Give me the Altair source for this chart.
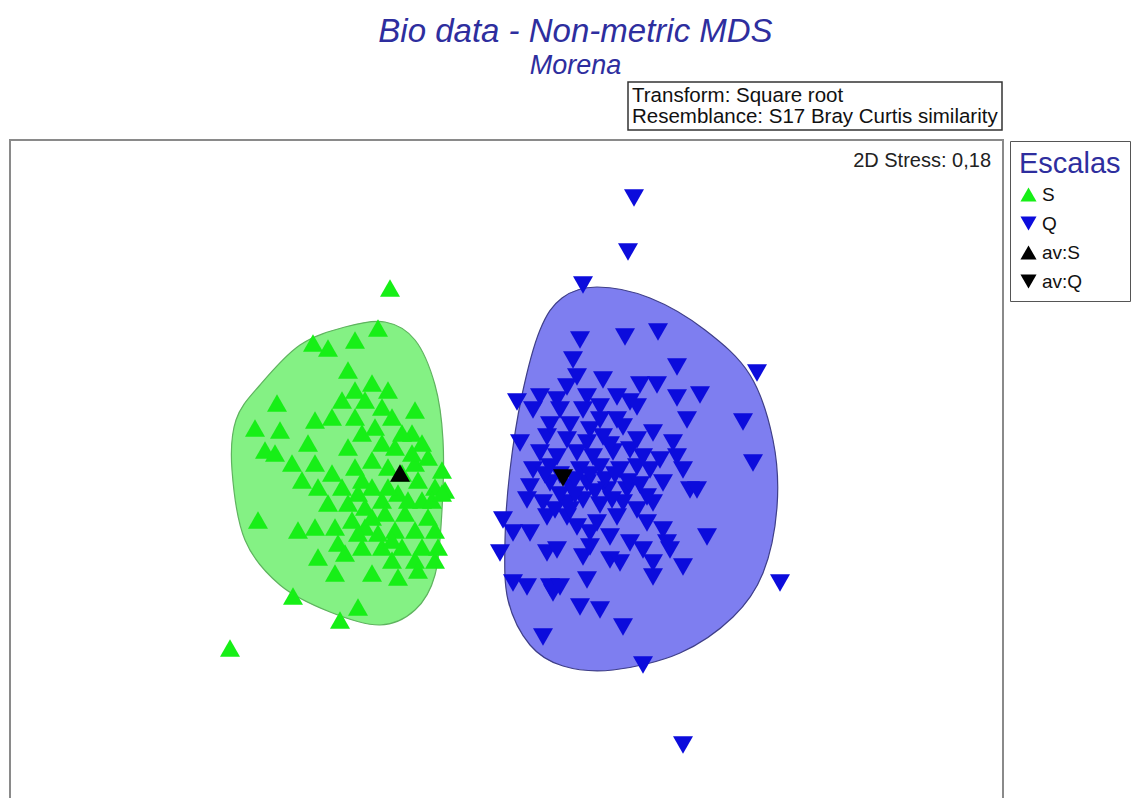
import altair as alt
import pandas as pd

# ---- MDS coordinates (arbitrary MDS units) ----
s_x = [-1.10, -2.70, -2.07, -1.60, -1.87, -1.72, -1.45, -1.22, -1.52, -2.23, -2.45, -2.20, -2.35, -2.25,
       -1.85, -1.92, -2.08, -1.85, -1.58, -1.68, -1.45, -1.28, -1.12, -1.18, -0.85, -0.88, -0.78, -0.58,
       -0.65, -0.55, -1.45, -1.38, -1.52, -1.18, -1.05, -1.28, -1.45, -1.12, -0.85, -0.82, -1.98, -1.82,
       -1.68, -1.58, -1.38, -1.28, -1.02, -0.78, -1.72, -1.52, -1.35, -1.18, -1.15, -0.95, -0.72, -2.42,
       -2.02, -1.85, -1.65, -1.48, -1.35, -1.22, -1.05, -0.85, -0.65, -1.62, -1.38, -1.18, -0.98, -0.78,
       -0.62, -1.82, -1.55, -1.08, -0.85, -0.65, -1.65, -1.28, -1.02, -0.82, -1.42, -1.25, -1.08, -0.98,
       -1.35, -0.88, -0.72, -0.98, -0.68, -1.42, -1.12, -0.92, -1.28, -1.42, -1.08, -0.58]
s_y = [1.82, -1.78, -1.26, -1.50, 1.27, 1.22, 1.30, 1.42, 1.00, 0.67, 0.42, 0.40, 0.20, 0.17,
       0.50, 0.27, 0.07, 0.07, 0.70, 0.53, 0.80, 0.87, 0.80, 0.63, 0.60, 0.37, 0.27, 0.00,
       -0.17, -0.20, 0.53, 0.37, 0.23, 0.27, 0.23, 0.10, 0.03, 0.03, 0.07, -0.10, -0.10, -0.17,
       -0.03, -0.17, -0.10, -0.17, -0.23, -0.30, -0.33, -0.33, -0.37, -0.30, -0.43, -0.43, -0.47, -0.50,
       -0.60, -0.57, -0.57, -0.50, -0.57, -0.63, -0.60, -0.60, -0.60, -0.73, -0.77, -0.77, -0.77, -0.77,
       -0.77, -0.87, -0.83, -0.90, -0.90, -0.90, -1.03, -1.03, -1.07, -1.00, -1.37, 0.43, 0.53, 0.37,
       0.70, 0.17, 0.13, -0.03, -0.30, -0.23, -0.17, -0.30, -0.47, -0.63, -0.70, -0.23]

q_x = [1.34, 1.28, 0.83, 2.57, 2.43, 2.53, 2.80, 1.43, 1.83, 0.80, 1.25, 1.58, 0.73, 1.77, 0.77,
       1.03, 0.67, 1.40, 1.57, 0.17, 0.40, 0.57, 0.87, 1.17, 1.30, 1.77, 2.00, 0.33, 0.60, 0.83,
       1.00, 1.37, 1.17, 1.87, 0.20, 0.47, 0.67, 0.87, 1.03, 1.23, 1.37, 1.53, 1.73, 0.40, 0.57,
       0.77, 0.93, 1.13, 1.30, 1.43, 1.77, 0.33, 0.50, 0.80, 1.00, 1.20, 1.37, 1.63, 1.83, 1.90,
       1.97, 0.30, 0.50, 0.70, 0.87, 1.07, 1.27, 1.47, 0.27, 0.43, 0.67, 0.83, 1.23, 1.37, 1.53,
       0.47, 0.67, 0.77, 0.97, 1.17, 1.47, 1.63, 0.03, 0.13, 0.30, 0.90, 1.10, 1.30, 1.67, 2.07,
       0.00, 0.47, 0.57, 0.83, 0.90, 1.10, 1.20, 1.43, 1.70, 1.53, 1.83, 0.13, 0.27, 0.50, 0.60,
       0.87, 1.53, 0.80, 1.00, 1.23, 0.43, 0.53, 0.60, 0.75, 0.90, 0.45, 1.05, 0.60, 0.75, 0.95,
       1.12, 0.55, 0.70, 1.00, 1.15, 1.28, 1.40, 1.50, 1.60, 1.10, 0.90, 0.70, 0.50, 1.00]
q_y = [2.72, 2.18, 1.85, 0.97, 0.48, 0.07, -1.13, -1.95, -2.75, 1.30, 1.33, 1.38, 1.10, 1.03, 0.93,
       0.90, 0.83, 0.85, 0.85, 0.68, 0.73, 0.70, 0.73, 0.73, 0.68, 0.72, 0.75, 0.60, 0.60, 0.60,
       0.63, 0.63, 0.50, 0.50, 0.27, 0.33, 0.30, 0.27, 0.33, 0.43, 0.30, 0.37, 0.27, 0.17, 0.13,
       0.17, 0.13, 0.18, 0.20, 0.13, 0.13, 0.00, 0.03, 0.00, 0.03, 0.00, 0.03, -0.13, 0.00, -0.20,
       -0.20, -0.17, -0.13, -0.17, -0.13, -0.20, -0.20, -0.27, -0.30, -0.33, -0.33, -0.30, -0.33, -0.40, -0.33,
       -0.47, -0.47, -0.57, -0.53, -0.47, -0.53, -0.60, -0.50, -0.63, -0.63, -0.63, -0.67, -0.73, -0.73, -0.67,
       -0.83, -0.83, -0.80, -0.87, -0.77, -0.90, -0.93, -0.80, -0.80, -0.93, -0.97, -1.13, -1.17, -1.17, -1.17,
       -1.10, -1.07, -1.37, -1.40, -1.57, -1.67, -1.23, -0.05, -0.10, -0.05, -0.05, -0.10, -0.25, -0.25, -0.22,
       -0.30, -0.40, -0.40, -0.35, -0.05, -0.12, -0.15, 0.00, 0.10, 0.25, 0.40, 0.45, 0.45, 0.50]

av_x = [-1.00, 0.63]
av_y = [-0.03, -0.08]

groups = ["S", "Q", "av:S", "av:Q"]
group_colors = ["#17ef17", "#0c0cdc", "#000000", "#000000"]
group_shapes = ["triangle-up", "triangle-down", "triangle-up", "triangle-down"]

# hull outlines (smoothed closed curves through these vertices)
hull_s_x = [-2.68, -2.64, -2.40, -2.00, -1.55, -1.15, -0.85, -0.65, -0.57, -0.58, -0.65, -0.85, -1.20, -1.70, -2.20, -2.55]
hull_s_y = [0.00, 0.50, 0.85, 1.25, 1.43, 1.48, 1.30, 0.85, 0.30, -0.40, -1.05, -1.40, -1.55, -1.42, -1.15, -0.70]
hull_q_x = [0.10, 0.05, 0.08, 0.30, 0.63, 1.13, 1.80, 2.33, 2.63, 2.77, 2.73, 2.50, 2.05, 1.50, 0.97, 0.62, 0.40, 0.22]
hull_q_y = [0.00, -0.70, -1.30, -1.75, -1.96, -2.00, -1.83, -1.47, -1.03, -0.37, 0.30, 0.95, 1.40, 1.72, 1.83, 1.72, 1.40, 0.75]

FONT = "Liberation Sans"
TITLE_BLUE = "#2e2e9e"

pts = pd.concat([
    pd.DataFrame({"x": s_x, "y": s_y, "group": "S"}),
    pd.DataFrame({"x": q_x, "y": q_y, "group": "Q"}),
    pd.DataFrame({"x": av_x[:1], "y": av_y[:1], "group": "av:S"}),
    pd.DataFrame({"x": av_x[1:], "y": av_y[1:], "group": "av:Q"}),
], ignore_index=True)

hs = pd.DataFrame({"x": hull_s_x, "y": hull_s_y, "i": range(len(hull_s_x))})
hq = pd.DataFrame({"x": hull_q_x, "y": hull_q_y, "i": range(len(hull_q_x))})

xs = alt.Scale(domain=[-4.90, 5.03], nice=False, zero=False)
ys = alt.Scale(domain=[-3.30, 3.30], nice=False, zero=False)

def hull(df, fill, stroke):
    return alt.Chart(df).mark_line(
        interpolate="cardinal-closed", fill=fill, stroke=stroke, strokeWidth=1.2
    ).encode(
        x=alt.X("x:Q", scale=xs, axis=None),
        y=alt.Y("y:Q", scale=ys, axis=None),
        order="i:Q",
    )

hull_s = hull(hs, "#84f184", "#5fb35f")
hull_q = hull(hq, "#7e7ef0", "#3f3f88")

points = alt.Chart(pts).mark_point(filled=True, size=400, opacity=1).encode(
    x=alt.X("x:Q", scale=xs, axis=None),
    y=alt.Y("y:Q", scale=ys, axis=None),
    color=alt.Color("group:N", scale=alt.Scale(domain=groups, range=group_colors),
                    legend=alt.Legend(title="Escalas")),
    shape=alt.Shape("group:N", scale=alt.Scale(domain=groups, range=group_shapes),
                    legend=alt.Legend(title="Escalas")),
)

box = alt.Chart(pd.DataFrame({"a": [0]})).mark_rect(
    fill="white", stroke="#333333", strokeWidth=1.5
).encode(x=alt.value(618), x2=alt.value(992), y=alt.value(-58), y2=alt.value(-10))

box_text = alt.Chart(pd.DataFrame({"a": [0]})).mark_text(
    align="left", baseline="alphabetic", font=FONT, fontSize=20.5, lineHeight=21, color="#111111"
).encode(x=alt.value(622), y=alt.value(-38),
         text=alt.value(["Transform: Square root", "Resemblance: S17 Bray Curtis similarity"]))

stress = alt.Chart(pd.DataFrame({"a": [0]})).mark_text(
    align="right", baseline="alphabetic", font=FONT, fontSize=20, color="#222222"
).encode(x=alt.value(981), y=alt.value(27), text=alt.value("2D Stress: 0,18"))

chart = alt.layer(hull_s, hull_q, points, box, box_text, stress).properties(
    width=993, height=660,
    title=alt.Title(
        text="Bio data - Non-metric MDS", subtitle="Morena",
        font=FONT, fontSize=33, fontStyle="italic", fontWeight="normal", color=TITLE_BLUE,
        subtitleFont=FONT, subtitleFontSize=27, subtitleFontStyle="italic", subtitleColor=TITLE_BLUE,
        subtitlePadding=4, anchor="middle", offset=2, dx=69,
    ),
    padding={"left": 10, "top": 140, "right": 133, "bottom": 0},
    autosize=alt.AutoSizeParams(type="none"),
).configure_view(
    stroke="#8a8a8a", strokeWidth=2
).configure_legend(
    orient="none", legendX=1000, legendY=1,
    padding=9, strokeColor="#555555", fillColor="white", cornerRadius=0,
    titleFont=FONT, titleFontSize=29, titleFontWeight="normal", titleColor=TITLE_BLUE, titlePadding=6,
    labelFont=FONT, labelFontSize=19, labelColor="#111111",
    symbolSize=260, symbolStrokeWidth=0, rowPadding=9,
)

chart.save("out.html", embed_options={"renderer": "svg", "actions": False})
